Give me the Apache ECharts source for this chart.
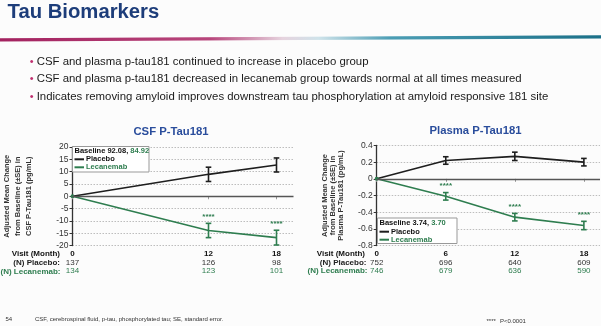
<!DOCTYPE html>
<html><head><meta charset="utf-8">
<script src="https://cdn.jsdelivr.net/npm/echarts@6/dist/echarts.min.js"></script>
<style>html,body{margin:0;padding:0;background:#fcfcfc}#c{width:601px;height:326px}</style>
</head><body><div id="c"></div>
<script>
const FONT = '"Liberation Sans", Arial, Helvetica, sans-serif';
const GREEN = '#2e7d4f';
const DARK = '#1e1e1e';
const TITLE_BLUE = '#1d3d7a';
const CHART_BLUE = '#2a4d9c';

// ---- CSF P-Tau181 ----
const csfMonths = [0, 12, 18];
const csfPlacebo = [0, 8.9, 12.7];
const csfPlaceboSE = [0, 2.9, 2.85];
const csfLecanemab = [0, -13.9, -16.8];
const csfLecanemabSE = [0, 2.9, 3.0];
const csfSig = [0, 1, 1];
const csfNPlacebo = [137, 126, 98];
const csfNLecanemab = [134, 123, 101];

// ---- Plasma P-Tau181 ----
const plasmaMonths = [0, 6, 12, 18];
const plasmaPlacebo = [0, 0.22, 0.27, 0.20];
const plasmaPlaceboSE = [0, 0.045, 0.05, 0.045];
const plasmaLecanemab = [0, -0.21, -0.46, -0.56];
const plasmaLecanemabSE = [0, 0.045, 0.045, 0.05];
const plasmaSig = [0, 1, 1, 1];
const plasmaNPlacebo = [752, 696, 640, 609];
const plasmaNLecanemab = [746, 679, 636, 590];

const bullets = [
  'CSF and plasma p-tau181 continued to increase in placebo group',
  'CSF and plasma p-tau181 decreased in lecanemab group towards normal at all times measured',
  'Indicates removing amyloid improves downstream tau phosphorylation at amyloid responsive 181 site'
];

const chart = echarts.init(document.getElementById('c'), null, {renderer: 'canvas'});

function lineData(months, vals, withDot) {
  return months.map((m, i) => (i === 0 && withDot)
    ? {value: [m, vals[i]], symbol: 'circle', symbolSize: 4}
    : [m, vals[i]]);
}
function errData(months, vals, se, sig) {
  return months.map((m, i) => [m, vals[i] - se[i], vals[i] + se[i], se[i], sig ? sig[i] : 0]);
}
function errRender(color) {
  return function (params, api) {
    const se = api.value(3);
    if (!se) return;
    const x = api.value(0);
    const lo = api.coord([x, api.value(1)]);
    const hi = api.coord([x, api.value(2)]);
    const w = 2.8;
    const st = {stroke: color, lineWidth: 1.6};
    const children = [
      {type: 'line', shape: {x1: lo[0], y1: lo[1], x2: hi[0], y2: hi[1]}, style: st},
      {type: 'line', shape: {x1: lo[0] - w, y1: lo[1], x2: lo[0] + w, y2: lo[1]}, style: st},
      {type: 'line', shape: {x1: hi[0] - w, y1: hi[1], x2: hi[0] + w, y2: hi[1]}, style: st}
    ];
    if (api.value(4)) {
      children.push({type: 'text', x: hi[0], y: hi[1] - 6.5,
        style: {text: '****', fill: color, font: 'bold 8px ' + FONT, align: 'center', verticalAlign: 'middle'}});
    }
    return {type: 'group', children};
  };
}
function xLabel(months, nP, nL) {
  return function (v) {
    const i = months.indexOf(v);
    if (i < 0) return '';
    return '{m|' + v + '}\n{p|' + nP[i] + '}\n{l|' + nL[i] + '}';
  };
}
const richX = {
  m: {fontFamily: FONT, fontSize: 8, fontWeight: 'bold', color: '#111', lineHeight: 8.6},
  p: {fontFamily: FONT, fontSize: 8, color: '#333', lineHeight: 8.6},
  l: {fontFamily: FONT, fontSize: 8, color: GREEN, lineHeight: 8.6}
};
function xAxisDef(gi, max, months, nP, nL) {
  return {
    type: 'value', gridIndex: gi, min: 0, max: max,
    axisLine: {show: false},
    axisTick: {show: true, customValues: months, length: 3, lineStyle: {color: '#999'}},
    axisLabel: {customValues: months, formatter: xLabel(months, nP, nL), rich: richX, margin: 4.2},
    splitLine: {show: false}
  };
}
function yAxisDef(gi, min, max, interval, name, gap, lh) {
  return {
    type: 'value', gridIndex: gi, min, max, interval,
    axisLine: {show: true, lineStyle: {color: '#333', width: 1.3}},
    axisTick: {show: true, length: 3, lineStyle: {color: '#333'}},
    axisLabel: {fontFamily: FONT, fontSize: 8.5, color: '#333', margin: 4},
    splitLine: {show: true, lineStyle: {color: '#bdbdbd', type: [1.5, 1.5], width: 1}},
    name, nameLocation: 'middle', nameRotate: 90, nameGap: gap,
    nameTextStyle: {fontFamily: FONT, fontSize: 7.5, fontWeight: 'bold', color: '#333', lineHeight: lh}
  };
}
function seriesFor(gi, months, plac, placSE, lec, lecSE, sig) {
  return [
    {name: 'Placebo', type: 'line', xAxisIndex: gi, yAxisIndex: gi, data: lineData(months, plac, false),
      symbol: 'none', lineStyle: {color: DARK, width: 1.6}, itemStyle: {color: DARK}, z: 3,
      markLine: {silent: true, symbol: 'none', label: {show: false},
        lineStyle: {color: '#555', width: 1.3, type: 'solid'}, data: [{yAxis: 0}]}},
    {name: 'Lecanemab', type: 'line', xAxisIndex: gi, yAxisIndex: gi, data: lineData(months, lec, true),
      symbol: 'none', lineStyle: {color: GREEN, width: 1.6}, itemStyle: {color: GREEN}, z: 3},
    {type: 'custom', xAxisIndex: gi, yAxisIndex: gi, renderItem: errRender(DARK),
      data: errData(months, plac, placSE, null), encode: {x: 0, y: [1, 2]}, z: 4},
    {type: 'custom', xAxisIndex: gi, yAxisIndex: gi, renderItem: errRender(GREEN),
      data: errData(months, lec, lecSE, sig), encode: {x: 0, y: [1, 2]}, z: 4}
  ];
}
function legendDef(left, top) {
  return {
    orient: 'vertical', left, top, itemWidth: 9.5, itemHeight: 2, itemGap: 0, icon: 'rect',
    padding: 0, selectedMode: false, z: 20,
    textStyle: {fontFamily: FONT, fontSize: 7.5, fontWeight: 'bold', lineHeight: 8, padding: [0, 0, 0, -3]},
    data: [{name: 'Placebo', textStyle: {color: '#111'}}, {name: 'Lecanemab', textStyle: {color: GREEN}}]
  };
}
function txt(x, y, text, o) {
  return Object.assign({type: 'text', x, y, silent: true,
    style: Object.assign({text, fontFamily: FONT, fontSize: 8, fill: '#111', verticalAlign: 'middle'}, o || {})});
}
function baseText(x, y, a, b) {
  return {type: 'text', x, y, silent: true, z: 21,
    style: {text: a + '{g|' + b + '}', fontFamily: FONT, fontSize: 7.5, fontWeight: 'bold', fill: '#111', verticalAlign: 'middle',
      rich: {g: {fill: GREEN, fontFamily: FONT, fontSize: 7.5, fontWeight: 'bold'}}}};
}

const graphic = [
  {type: 'polygon', silent: true, shape: {points: [[0, 38.3], [601, 35.2], [601, 38.6], [0, 41.6]]},
    style: {fill: new echarts.graphic.LinearGradient(0, 0, 1, 0, [
      {offset: 0, color: '#a3225f'}, {offset: 0.35, color: '#b8467c'}, {offset: 0.47, color: '#e6d3de'},
      {offset: 0.53, color: '#cfe3ea'}, {offset: 0.65, color: '#4b9db4'}, {offset: 1, color: '#1b7088'}])}},
  txt(7.5, 12.5, 'Tau Biomarkers', {fontSize: 20.3, fontWeight: 'bold', fill: TITLE_BLUE}),
  txt(171, 131.5, 'CSF P-Tau181', {fontSize: 11.3, fontWeight: 'bold', fill: CHART_BLUE, align: 'center'}),
  txt(475.5, 131, 'Plasma P-Tau181', {fontSize: 11.3, fontWeight: 'bold', fill: CHART_BLUE, align: 'center'}),
  // legend boxes
  {type: 'rect', silent: true, z: 15, shape: {x: 72.5, y: 146.5, width: 76.5, height: 25.5}, style: {fill: '#fff', stroke: '#999', lineWidth: 1}},
  {type: 'rect', silent: true, z: 15, shape: {x: 377.5, y: 218, width: 79.5, height: 25.5}, style: {fill: '#fff', stroke: '#999', lineWidth: 1}},
  baseText(74.5, 151, 'Baseline 92.08, ', '84.92'),
  baseText(379.5, 223, 'Baseline 3.74, ', '3.70'),
  // row labels
  txt(60, 254, 'Visit (Month)', {fontWeight: 'bold', align: 'right'}),
  txt(60, 262.7, '(N) Placebo:', {fontWeight: 'bold', align: 'right', fill: '#222'}),
  txt(60.5, 271.3, '(N) Lecanemab:', {fontWeight: 'bold', align: 'right', fill: GREEN}),
  txt(365, 254, 'Visit (Month)', {fontWeight: 'bold', align: 'right'}),
  txt(366.5, 262.7, '(N) Placebo:', {fontWeight: 'bold', align: 'right', fill: '#222'}),
  txt(367.5, 271, '(N) Lecanemab:', {fontWeight: 'bold', align: 'right', fill: GREEN}),
  // footer
  txt(5.5, 319.3, '54', {fontSize: 6, fill: '#333'}),
  txt(35, 319.3, 'CSF, cerebrospinal fluid, p-tau, phosphorylated tau; SE, standard error.', {fontSize: 6, fill: '#333'}),
  txt(486.5, 321.5, '****', {fontSize: 6, fill: '#333'}),
  txt(500, 321.5, 'P<0.0001', {fontSize: 6, fill: '#333'})
];
bullets.forEach((b, i) => {
  const y = [61.7, 79, 96.7][i];
  graphic.push(txt(29.8, y, '\u2022', {fontSize: 11, fill: '#c0306f'}));
  graphic.push(txt(36.7, y, b, {fontSize: 11.4, fill: '#1a1a1a'}));
});

const option = {
  backgroundColor: '#fcfcfc',
  animation: false,
  textStyle: {fontFamily: FONT},
  grid: [
    {left: 70.5, top: 147, width: 223, height: 98.5},
    {left: 376.7, top: 145.5, width: 223.3, height: 100}
  ],
  xAxis: [
    xAxisDef(0, 19.5, csfMonths, csfNPlacebo, csfNLecanemab),
    xAxisDef(1, 19.4, plasmaMonths, plasmaNPlacebo, plasmaNLecanemab)
  ],
  yAxis: [
    yAxisDef(0, -20, 20, 5, 'Adjusted Mean Change\nfrom Baseline (\u00b1SE) in\nCSF P-Tau181 (pg/mL)', 38.5, 11),
    yAxisDef(1, -0.8, 0.4, 0.2, 'Adjusted Mean Change\nfrom Baseline (\u00b1SE) in\nPlasma P-Tau181 (pg/mL)', 31.7, 8)
  ],
  legend: [legendDef(74.5, 155.3), legendDef(379.5, 227.7)],
  series: [].concat(
    seriesFor(0, csfMonths, csfPlacebo, csfPlaceboSE, csfLecanemab, csfLecanemabSE, csfSig),
    seriesFor(1, plasmaMonths, plasmaPlacebo, plasmaPlaceboSE, plasmaLecanemab, plasmaLecanemabSE, plasmaSig)
  ),
  graphic: graphic
};
chart.setOption(option);
</script></body></html>
